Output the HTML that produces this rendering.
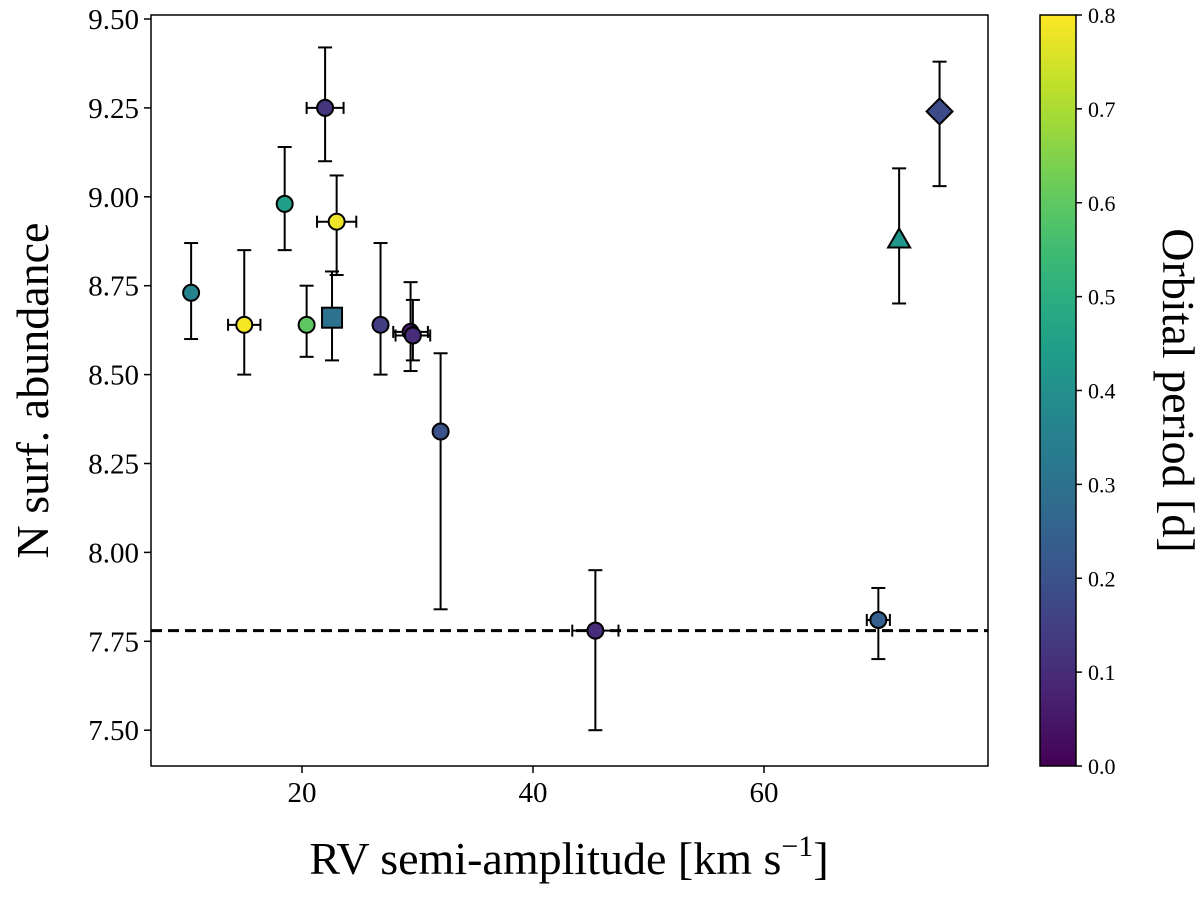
<!DOCTYPE html>
<html><head><meta charset="utf-8"><style>
body{margin:0;background:#fff;}
svg text{font-family:"Liberation Serif",serif;fill:#000;}
</style></head><body>
<svg id="chart" width="1200" height="894" xmlns="http://www.w3.org/2000/svg"></svg>
<script>
const xs=[10.4,15.0,18.5,20.4,22.0,23.0,22.6,26.8,29.4,29.6,32.0,45.4,69.9,71.7,75.2];
const ys=[8.73,8.64,8.98,8.64,9.25,8.93,8.66,8.64,8.62,8.61,8.34,7.78,7.81,8.88,9.24];
const yLo=[8.60,8.50,8.85,8.55,9.10,8.78,8.54,8.50,8.51,8.54,7.84,7.50,7.70,8.70,9.03];
const yHi=[8.87,8.85,9.14,8.75,9.42,9.06,8.79,8.87,8.76,8.71,8.56,7.95,7.90,9.08,9.38];
const xErr=[0,1.4,0,0,1.6,1.7,0,0,1.5,1.5,0,2.0,1.0,0,0];
const periods=[0.36,0.79,0.45,0.6,0.12,0.78,0.3,0.14,0.06,0.1,0.2,0.1,0.24,0.42,0.18];
const markers=['o','o','o','o','o','o','s','o','o','o','o','o','o','^','D'];
const yTicks=[7.5,7.75,8.0,8.25,8.5,8.75,9.0,9.25,9.5];
const yTickLabels=['7.50','7.75','8.00','8.25','8.50','8.75','9.00','9.25','9.50'];
const xTicks=[20,40,60];
const cTicks=[0,0.1,0.2,0.3,0.4,0.5,0.6,0.7,0.8];
const refLine=7.78;

const L=151,R=988,T=15,B=766;
const X=v=>302+(v-20)*11.55;
const Y=v=>19+(9.5-v)*355.6;
const C=v=>B-(v/0.8)*(B-T);
const vir=[[68,1,84],[72,40,120],[62,74,137],[49,104,142],[38,130,142],[31,158,137],[53,183,121],[109,205,89],[180,222,44],[253,231,37]];
function viridis(t){t=Math.max(0,Math.min(1,t))*9;const i=Math.min(8,Math.floor(t)),f=t-i;const a=vir[i],b=vir[i+1];return `rgb(${a.map((c,k)=>Math.round(c+(b[k]-c)*f)).join(',')})`;}
const svg=document.getElementById('chart');const NS='http://www.w3.org/2000/svg';
function el(tag,at,txt){const e=document.createElementNS(NS,tag);for(const k in at)e.setAttribute(k,at[k]);if(txt!==undefined)e.textContent=txt;svg.appendChild(e);return e;}
const defs=el('defs',{});const g=document.createElementNS(NS,'linearGradient');g.setAttribute('id','vg');g.setAttribute('x1','0');g.setAttribute('y1','1');g.setAttribute('x2','0');g.setAttribute('y2','0');
for(let i=0;i<=20;i++){const s=document.createElementNS(NS,'stop');s.setAttribute('offset',i/20);s.setAttribute('stop-color',viridis(i/20));g.appendChild(s);}defs.appendChild(g);
let e=el('rect',{x:L,y:T,width:R-L,height:B-T,fill:'none',stroke:'#000','stroke-width':1.5});


yTicks.forEach((v,i)=>{const y=Y(v);
 let t=el('line',{x1:L-7,x2:L,y1:y,y2:y,stroke:'#000','stroke-width':1.5});
 
 
 let l=el('text',{x:L-12,y:y+10,'text-anchor':'end','font-size':29},yTickLabels[i]);
 
 });
xTicks.forEach(v=>{const x=X(v);
 let t=el('line',{x1:x,x2:x,y1:B,y2:B+7,stroke:'#000','stroke-width':1.5});
 
 
 let l=el('text',{x:x,y:B+36,'text-anchor':'middle','font-size':29},String(v));
 
 });
e=el('text',{x:569,y:874,'text-anchor':'middle','font-size':46},'');
e.innerHTML='RV semi-amplitude [km s<tspan dy="-18" font-size="30">−1</tspan><tspan dy="18">]</tspan>';


e=el('text',{x:0,y:0,'text-anchor':'middle','font-size':46,transform:`translate(48,${(T+B)/2}) rotate(-90)`},'N surf. abundance');


e=el('line',{x1:L,x2:R,y1:Y(refLine),y2:Y(refLine),stroke:'#000','stroke-width':3,'stroke-dasharray':'11,6'});


xs.forEach((xv,i)=>{const x=X(xv),y=Y(ys[i]);
 const gg=el('g',{});
 
 
 const add=(tag,at)=>{const c=document.createElementNS(NS,tag);for(const k in at)c.setAttribute(k,at[k]);gg.appendChild(c);};
 const st={stroke:'#000','stroke-width':2};
 add('line',{x1:x,x2:x,y1:Y(yHi[i]),y2:Y(yLo[i]),...st});
 add('line',{x1:x-7,x2:x+7,y1:Y(yHi[i]),y2:Y(yHi[i]),...st});
 add('line',{x1:x-7,x2:x+7,y1:Y(yLo[i]),y2:Y(yLo[i]),...st});
 if(xErr[i]>0){const a=X(xv-xErr[i]),b=X(xv+xErr[i]);
  add('line',{x1:a,x2:b,y1:y,y2:y,...st});
  add('line',{x1:a,x2:a,y1:y-6,y2:y+6,...st});
  add('line',{x1:b,x2:b,y1:y-6,y2:y+6,...st});}
 const f=viridis(periods[i]/0.8);
 const m={fill:f,stroke:'#000','stroke-width':2};
 if(markers[i]==='o')add('circle',{cx:x,cy:y,r:8,...m});
 else if(markers[i]==='s')add('rect',{x:x-10,y:y-10,width:20,height:20,...m});
 else if(markers[i]==='^')add('polygon',{points:`${x},${y-11} ${x+11},${y+8} ${x-11},${y+8}`,...m});
 else add('polygon',{points:`${x},${y-13} ${x+13},${y} ${x},${y+13} ${x-13},${y}`,...m});
});
e=el('rect',{x:1040,y:T,width:36,height:B-T,fill:'url(#vg)',stroke:'#000','stroke-width':1.5});


cTicks.forEach(v=>{const y=C(v);
 let t=el('line',{x1:1076,x2:1082,y1:y,y2:y,stroke:'#000','stroke-width':1.5});
 
 
 let l=el('text',{x:1088,y:y+8,'font-size':22},v.toFixed(1));
 
 });
e=el('text',{x:0,y:0,'text-anchor':'middle','font-size':46,transform:`translate(1163,${(T+B)/2}) rotate(90)`},'Orbital period [d]');


</script>
</body></html>
